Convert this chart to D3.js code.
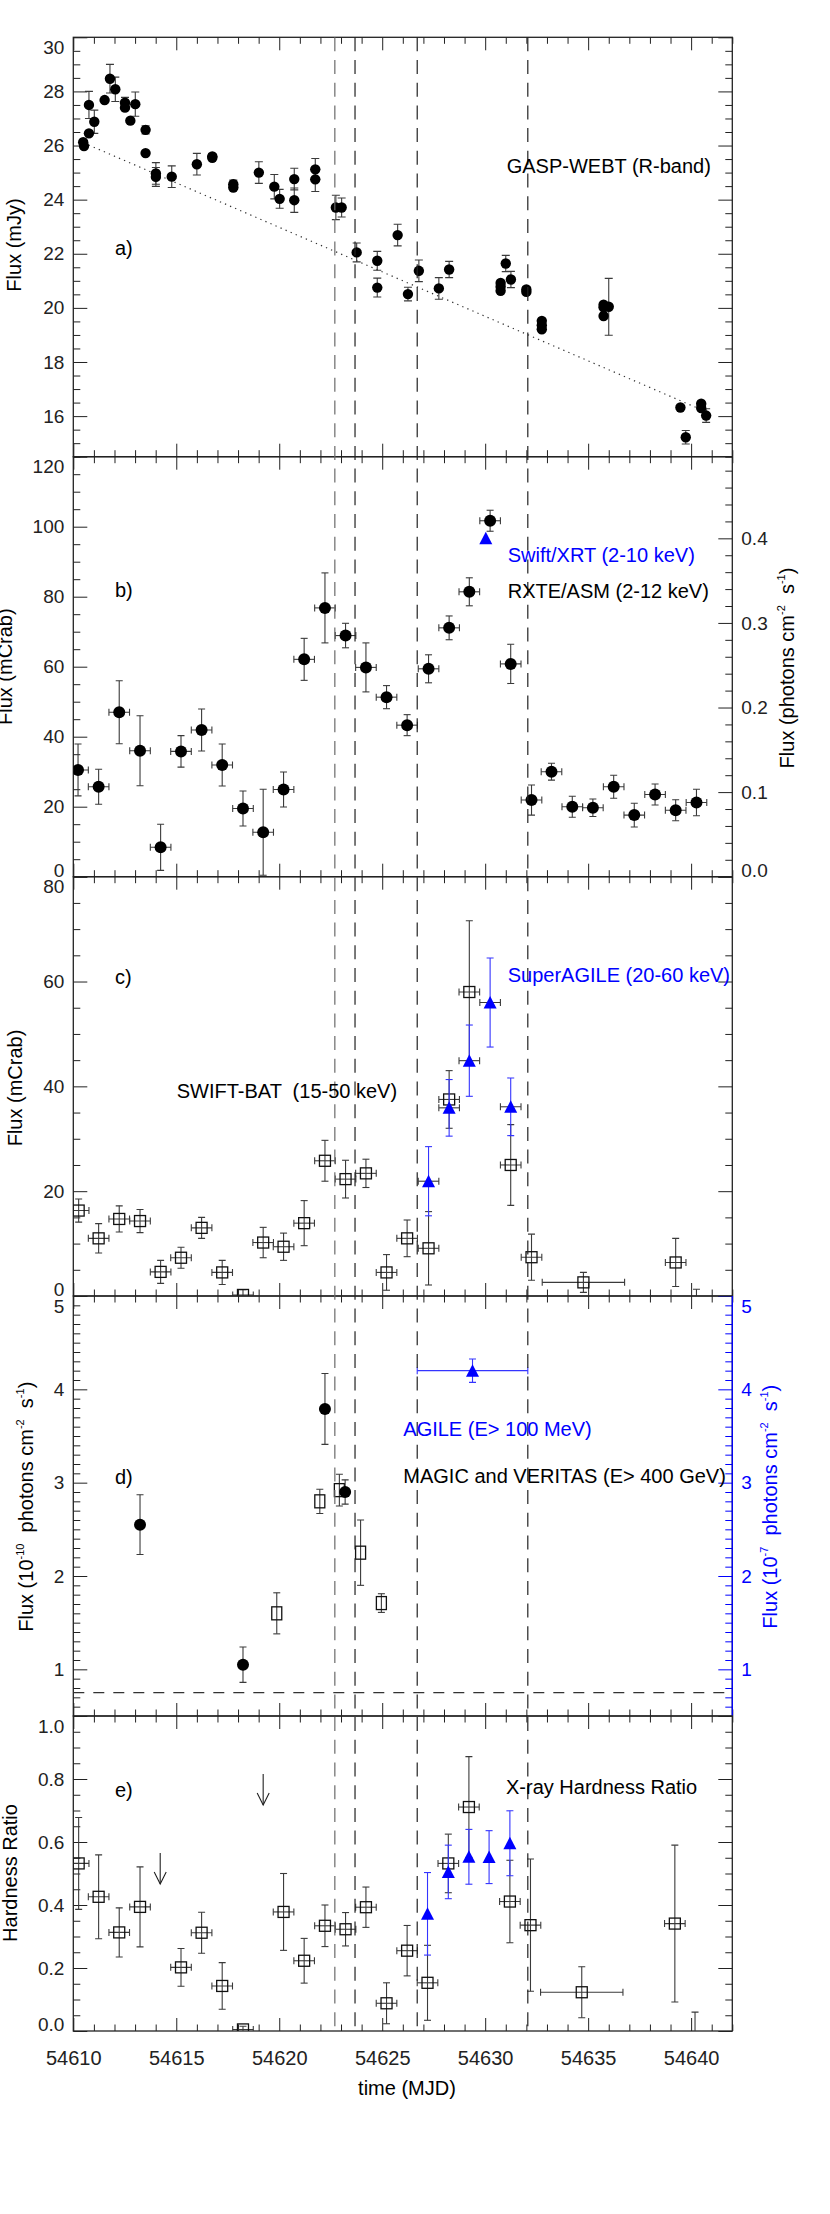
<!DOCTYPE html>
<html>
<head>
<meta charset="utf-8">
<script src="https://cdn.jsdelivr.net/npm/d3@7/dist/d3.min.js"></script>
<style>
  body { margin: 0; background: #fff; }
  svg { display: block; }
</style>
</head>
<body>
<svg id="chart"></svg>
<script>
// ---------------- data ----------------
const eventLines = [54622.70, 54623.68, 54626.70, 54632.07];

// a) GASP-WEBT R-band
const webtTime = [54610.48, 54610.52, 54610.76, 54610.76, 54611.02, 54611.52, 54611.78, 54612.04, 54612.51, 54612.51,
  54612.77, 54613.01, 54613.51, 54613.51, 54614.01, 54614.01, 54614.78, 54616.00, 54616.75, 54616.75,
  54617.77, 54617.77, 54619.01, 54619.76, 54620.02, 54620.73, 54620.73, 54621.75, 54621.75, 54622.75,
  54623.03, 54623.76, 54624.76, 54624.76, 54625.75, 54626.25, 54626.78, 54627.75, 54628.25, 54630.75,
  54630.75, 54630.75, 54631.00, 54631.25, 54632.00, 54632.00, 54632.75, 54632.75, 54632.75, 54635.75,
  54635.75, 54635.75, 54636.00, 54639.48, 54639.74, 54640.49, 54640.49, 54640.73];
const webtFlux = [26.12, 25.98, 26.45, 27.50, 26.88, 27.68, 28.47, 28.08, 27.58, 27.40,
  26.92, 27.53, 26.58, 25.72, 24.97, 24.84, 24.85, 25.31, 25.60, 25.55,
  24.57, 24.45, 25.00, 24.48, 24.03, 24.76, 23.98, 25.12, 24.75, 23.71,
  23.71, 22.05, 21.74, 20.75, 22.69, 20.51, 21.37, 20.72, 21.42, 20.92,
  20.78, 20.63, 21.64, 21.05, 20.68, 20.59, 19.52, 19.36, 19.21, 20.12,
  20.02, 19.70, 20.04, 16.32, 15.22, 16.46, 16.30, 16.02];
const webtErr = [0, 0, 0, 0.50, 0.43, 0, 0.53, 0.45, 0.20, 0,
  0, 0.45, 0.15, 0, 0.40, 0.35, 0.40, 0.40, 0.10, 0,
  0.15, 0, 0.40, 0.45, 0.35, 0.40, 0.45, 0.40, 0.45, 0.45,
  0.35, 0.35, 0.35, 0.35, 0.40, 0.25, 0.40, 0.40, 0.30, 0,
  0, 0, 0.30, 0.30, 0.10, 0, 0, 0, 0, 0,
  0, 0, 1.05, 0, 0.25, 0, 0.10, 0.25];
const trendTime = [54610.5, 54640.3];
const trendFlux = [26.1, 16.3];

// b) RXTE/ASM (mCrab) and Swift/XRT (photons cm-2 s-1, right axis)
const asmTime = [54610.23, 54611.23, 54612.23, 54613.24, 54614.24, 54615.23, 54616.23, 54617.23, 54618.24, 54619.22,
  54620.21, 54621.21, 54622.22, 54623.22, 54624.21, 54625.21, 54626.21, 54627.25, 54628.25, 54629.23,
  54630.24, 54631.24, 54632.25, 54633.22, 54634.23, 54635.23, 54636.24, 54637.24, 54638.25, 54639.25, 54640.26];
const asmFlux = [30.5, 25.7, 47.0, 36.0, 8.4, 35.8, 41.9, 31.9, 19.5, 12.7,
  24.9, 62.1, 76.8, 68.9, 59.8, 51.3, 43.3, 59.4, 71.1, 81.4,
  101.7, 60.8, 21.9, 30.0, 20.0, 19.7, 25.7, 17.6, 23.5, 19.0, 21.2];
const asmErr = [7.4, 5.0, 9.0, 10.0, 6.6, 4.5, 6.0, 6.0, 5.0, 12.3,
  5.0, 6.0, 10.0, 3.5, 7.0, 3.3, 3.0, 4.0, 3.4, 4.0,
  3.0, 5.6, 4.3, 2.4, 3.0, 2.5, 3.3, 3.4, 3.0, 3.0, 3.8];
const asmBinHalf = 0.5;
const xrtTime = [54630.03];
const xrtFlux = [0.40];

// c) SWIFT-BAT (squares) and SuperAGILE (triangles), mCrab
const batTime = [54610.26, 54611.23, 54612.23, 54613.24, 54614.24, 54615.23, 54616.23, 54617.23, 54618.24, 54619.22,
  54620.21, 54621.21, 54622.22, 54623.22, 54624.21, 54625.21, 54626.21, 54627.25, 54628.25, 54629.23,
  54631.24, 54632.25, 54634.77, 54639.25, 54640.26];
const batFlux = [16.3, 11.0, 14.7, 14.3, 4.6, 7.3, 13.0, 4.5, 0.2, 10.2,
  9.4, 13.9, 25.8, 22.3, 23.4, 4.5, 11.0, 9.1, 37.5, 58.0,
  25.0, 7.4, 2.6, 6.4, -2.0];
const batErr = [2.2, 2.8, 2.5, 2.2, 2.2, 2.0, 2.0, 2.3, 1.0, 2.9,
  2.6, 4.3, 3.9, 3.6, 2.7, 3.4, 3.5, 7.0, 5.5, 13.6,
  7.7, 4.4, 1.9, 4.6, 3.3];
const batTimeErr = [0.5, 0.5, 0.5, 0.5, 0.5, 0.5, 0.5, 0.5, 0.5, 0.5,
  0.5, 0.5, 0.5, 0.5, 0.5, 0.5, 0.5, 0.5, 0.5, 0.5,
  0.5, 0.5, 2.0, 0.5, 0.5];
const saTime = [54627.25, 54628.25, 54629.23, 54630.24, 54631.24];
const saFlux = [21.9, 35.9, 44.9, 56.0, 36.1];
const saErr = [6.6, 5.4, 6.8, 8.5, 5.5];

// d) MAGIC / VERITAS (1e-10 ph cm-2 s-1) and AGILE (1e-7, right axis)
const vheCircTime = [54613.24, 54618.24, 54622.22, 54623.20];
const vheCircFlux = [2.55, 1.05, 3.79, 2.90];
const vheCircErr = [0.32, 0.19, 0.38, 0.13];
const vheSqTime = [54619.88, 54621.97, 54622.92, 54623.95, 54624.96];
const vheSqFlux = [1.60, 2.80, 2.92, 2.25, 1.71];
const vheSqErr = [0.22, 0.13, 0.17, 0.35, 0.10];
const vheLevel = 0.75;
const agileTime = [54629.385];
const agileTimeErr = [2.685];
const agileFlux = [4.20];
const agileErr = [0.125];

// e) hardness ratio
const hrTime = [54610.26, 54611.23, 54612.23, 54613.24, 54615.23, 54616.23, 54617.23, 54618.24, 54620.21, 54621.21,
  54622.22, 54623.22, 54624.21, 54625.21, 54626.21, 54627.20, 54628.21, 54629.21, 54631.20, 54632.20,
  54634.69, 54639.21, 54640.19];
const hrVal = [0.532, 0.426, 0.313, 0.394, 0.202, 0.312, 0.143, 0.005, 0.378, 0.223,
  0.334, 0.323, 0.393, 0.088, 0.255, 0.153, 0.532, 0.711, 0.411, 0.336,
  0.123, 0.341, -0.05];
const hrErr = [0.146, 0.133, 0.078, 0.127, 0.060, 0.065, 0.074, 0.010, 0.122, 0.071,
  0.066, 0.053, 0.064, 0.065, 0.080, 0.119, 0.093, 0.160, 0.131, 0.210,
  0.081, 0.249, 0.110];
const hrTimeErr = [0.5, 0.5, 0.5, 0.5, 0.5, 0.5, 0.5, 0.5, 0.5, 0.5,
  0.5, 0.5, 0.5, 0.5, 0.5, 0.5, 0.5, 0.5, 0.5, 0.5,
  2.0, 0.5, 0.5];
const hrLimTime = [54614.22, 54619.22];
const hrLimVal = [0.565, 0.816];
const hrXrtTime = [54627.20, 54628.21, 54629.21, 54630.19, 54631.20];
const hrXrtVal = [0.372, 0.505, 0.553, 0.552, 0.596];
const hrXrtErr = [0.131, 0.085, 0.087, 0.084, 0.103];

// ---------------- drawing ----------------
const font = '"Liberation Sans", Arial, Helvetica, sans-serif';
const ink = "#222", barInk = "#3a3a3a", blue = "#0000ff", blueBar = "#3434ff";

const svg = d3.select("#chart")
  .attr("width", 830).attr("height", 2214)
  .style("font-family", font);
svg.append("rect").attr("width", 830).attr("height", 2214).attr("fill", "#fff");
const defs = svg.append("defs");

const x = d3.scaleLinear().domain([54610, 54642]).range([73.3, 732.3]);
const [L, R] = x.range();

function stepTicks(dom, step) {
  const lo = Math.min(...dom), hi = Math.max(...dom);
  const i0 = Math.ceil(lo / step - 1e-6), i1 = Math.floor(hi / step + 1e-6);
  return d3.range(i0, i1 + 1).map(i => +(i * step).toFixed(6));
}
function isMult(v, step) {
  const r = v / step;
  return Math.abs(r - Math.round(r)) < 1e-6;
}

// keep the labels at the panel edges inside the panel, like the original
function fitLabels(axisG, scale, top, bottom) {
  axisG.attr("font-size", 19).attr("font-family", font);
  axisG.selectAll(".tick text").attr("y", d => {
    const py = scale(d);
    return Math.max(top + 10, Math.min(bottom - 6.5, py)) - py;
  });
}

function yAxis(g, axisFn, scale, pos, dom, major, minor, fmt, color, top, bottom) {
  const maj = stepTicks(dom, major);
  const mnr = stepTicks(dom, minor).filter(v => !isMult(v, major));
  g.append("g").attr("transform", `translate(${pos},0)`).attr("color", color)
    .call(axisFn(scale).tickValues(mnr).tickSize(-7).tickSizeOuter(0).tickFormat(""))
    .call(a => a.select(".domain").remove());
  const lab = g.append("g").attr("transform", `translate(${pos},0)`).attr("color", color)
    .call(axisFn(scale).tickValues(maj).tickSize(-14).tickSizeOuter(0).tickPadding(9).tickFormat(fmt || ""))
    .call(a => a.select(".domain").remove());
  if (fmt) fitLabels(lab, scale, top, bottom);
}

function makePanel(id, top, bottom, domain, major, minor, fmt, right) {
  const y = d3.scaleLinear().domain(domain).range([bottom, top]);
  const g = svg.append("g").attr("class", "panel-" + id);

  defs.append("clipPath").attr("id", "clip-" + id).append("rect")
    .attr("x", L).attr("y", top).attr("width", R - L).attr("height", bottom - top);

  // time ticks on both edges, pointing inward
  const xMaj = stepTicks(x.domain(), 5);
  const xMin = stepTicks(x.domain(), 1).filter(v => !isMult(v, 5));
  [[d3.axisBottom, bottom], [d3.axisTop, top]].forEach(([ax, yy]) => {
    [[xMaj, -13], [xMin, -6.5]].forEach(([vals, len]) => {
      g.append("g").attr("transform", `translate(0,${yy})`).attr("color", ink)
        .call(ax(x).tickValues(vals).tickSize(len).tickSizeOuter(0).tickFormat(""))
        .call(a => a.select(".domain").remove());
    });
  });

  yAxis(g, d3.axisLeft, y, L, domain, major, minor, fmt, ink, top, bottom);

  let yr = null;
  if (right) {
    yr = d3.scaleLinear().domain(right.domain).range([bottom, top]);
    yAxis(g, d3.axisRight, yr, R, right.domain, right.major, right.minor, right.fmt, right.color, top, bottom);
  } else {
    yAxis(g, d3.axisRight, y, R, domain, major, minor, null, ink, top, bottom);
  }

  g.append("rect").attr("x", L).attr("y", top).attr("width", R - L).attr("height", bottom - top)
    .attr("fill", "none").attr("stroke", ink).attr("stroke-width", 1.3);
  if (right && right.color !== ink) {
    g.append("line").attr("x1", R).attr("x2", R).attr("y1", top).attr("y2", bottom)
      .attr("stroke", right.color).attr("stroke-width", 1.3);
  }

  const data = g.append("g").attr("clip-path", `url(#clip-${id})`);
  return { y, yr, g, data };
}

function pts(t, v, e, te) {
  return t.map((d, i) => ({ t: d, v: v[i], e: e ? e[i] : 0, te: te ? (Array.isArray(te) ? te[i] : te) : 0 }));
}

function vBars(g, p, ys, cap, color) {
  const s = p.filter(d => d.e > 0);
  g.selectAll(null).data(s).join("line")
    .attr("x1", d => x(d.t)).attr("x2", d => x(d.t))
    .attr("y1", d => ys(d.v - d.e)).attr("y2", d => ys(d.v + d.e))
    .attr("stroke", color).attr("stroke-width", 1.1);
  g.selectAll(null).data(s.flatMap(d => [[d.t, d.v - d.e], [d.t, d.v + d.e]])).join("line")
    .attr("x1", d => x(d[0]) - cap).attr("x2", d => x(d[0]) + cap)
    .attr("y1", d => ys(d[1])).attr("y2", d => ys(d[1]))
    .attr("stroke", color).attr("stroke-width", 1.1);
}
function hBars(g, p, ys, cap, color) {
  const s = p.filter(d => d.te > 0);
  g.selectAll(null).data(s).join("line")
    .attr("x1", d => x(d.t - d.te)).attr("x2", d => x(d.t + d.te))
    .attr("y1", d => ys(d.v)).attr("y2", d => ys(d.v))
    .attr("stroke", color).attr("stroke-width", 1.1);
  g.selectAll(null).data(s.flatMap(d => [[d.t - d.te, d.v], [d.t + d.te, d.v]])).join("line")
    .attr("x1", d => x(d[0])).attr("x2", d => x(d[0]))
    .attr("y1", d => ys(d[1]) - cap).attr("y2", d => ys(d[1]) + cap)
    .attr("stroke", color).attr("stroke-width", 1.1);
}
function dots(g, p, ys, r) {
  g.selectAll(null).data(p).join("circle")
    .attr("cx", d => x(d.t)).attr("cy", d => ys(d.v)).attr("r", r).attr("fill", "#000");
}
function squares(g, p, ys, w, h) {
  g.selectAll(null).data(p).join("rect")
    .attr("x", d => x(d.t) - w / 2).attr("y", d => ys(d.v) - h / 2)
    .attr("width", w).attr("height", h)
    .attr("fill", "none").attr("stroke", "#111").attr("stroke-width", 1.3);
}
function triangles(g, p, ys, color) {
  g.selectAll(null).data(p).join("path")
    .attr("d", "M0,-6.5L6.5,6L-6.5,6Z")
    .attr("transform", d => `translate(${x(d.t)},${ys(d.v)})`)
    .attr("fill", color);
}
function label(xp, yp, str, color) {
  return svg.append("text").attr("x", xp).attr("y", yp)
    .attr("font-size", 20).attr("fill", color || "#000")
    .style("white-space", "pre").text(str);
}
function vTitle(xb, yc, parts, color) {
  const t = svg.append("text")
    .attr("transform", `translate(${xb},${yc}) rotate(-90)`)
    .attr("text-anchor", "middle").attr("font-size", 20)
    .attr("fill", color || "#000").style("white-space", "pre");
  let up = false;
  parts.forEach(p => {
    const sup = typeof p !== "string";
    const ts = t.append("tspan").text(sup ? p.sup : p);
    if (sup) { ts.attr("font-size", 11).attr("dy", -9); up = true; }
    else if (up) { ts.attr("dy", 9); up = false; }
  });
}

// ---- panel a ----
const pa = makePanel("a", 37.3, 456.7, [14.5, 30], 2, 0.5, d3.format("d"));
pa.data.append("path")
  .datum(d3.zip(trendTime, trendFlux))
  .attr("d", d3.line().x(d => x(d[0])).y(d => pa.y(d[1])))
  .attr("fill", "none").attr("stroke", "#333").attr("stroke-width", 1.2)
  .attr("stroke-dasharray", "1.3,4.2");
const webt = pts(webtTime, webtFlux, webtErr);
vBars(pa.data, webt, pa.y, 4, barInk);
dots(pa.data, webt, pa.y, 5.2);

// ---- panel b ----
const pb = makePanel("b", 456.7, 876.7, [0, 120], 20, 5, d3.format("d"),
  { domain: [0, 0.4965], major: 0.1, minor: 0.02, fmt: d3.format(".1f"), color: ink });
const asm = pts(asmTime, asmFlux, asmErr, asmBinHalf);
hBars(pb.data, asm, pb.y, 3.5, barInk);
vBars(pb.data, asm, pb.y, 3.5, barInk);
dots(pb.data, asm, pb.y, 6);
triangles(pb.data, pts(xrtTime, xrtFlux), pb.yr, blue);

// ---- panel c ----
const pc = makePanel("c", 876.7, 1296, [0, 80], 20, 5, d3.format("d"));
const bat = pts(batTime, batFlux, batErr, batTimeErr);
hBars(pc.data, bat, pc.y, 3.5, barInk);
vBars(pc.data, bat, pc.y, 3.5, barInk);
squares(pc.data, bat, pc.y, 11, 11);
const sa = pts(saTime, saFlux, saErr, 0.5);
hBars(pc.data, sa, pc.y, 3.5, barInk);
vBars(pc.data, sa, pc.y, 3.5, blueBar);
triangles(pc.data, sa, pc.y, blue);

// ---- panel d ----
const pd = makePanel("d", 1296, 1716, [0.5, 5], 1, 0.1, d3.format("d"),
  { domain: [0.5, 5], major: 1, minor: 0.1, fmt: d3.format("d"), color: blue });
pd.data.append("line")
  .attr("x1", L).attr("x2", R).attr("y1", pd.y(vheLevel)).attr("y2", pd.y(vheLevel))
  .attr("stroke", "#333").attr("stroke-width", 1.2).attr("stroke-dasharray", "11,9");
const vheC = pts(vheCircTime, vheCircFlux, vheCircErr);
const vheS = pts(vheSqTime, vheSqFlux, vheSqErr);
vBars(pd.data, vheS, pd.y, 3.5, barInk);
squares(pd.data, vheS, pd.y, 10, 13);
vBars(pd.data, vheC, pd.y, 3.5, barInk);
dots(pd.data, vheC, pd.y, 6);
const agile = pts(agileTime, agileFlux, agileErr, agileTimeErr);
hBars(pd.data, agile, pd.yr, 3.5, blueBar);
vBars(pd.data, agile, pd.yr, 3.5, blueBar);
triangles(pd.data, agile, pd.yr, blue);

// ---- panel e ----
const pe = makePanel("e", 1716, 2031, [0, 1], 0.2, 0.05, d3.format(".1f"));
const hr = pts(hrTime, hrVal, hrErr, hrTimeErr);
hBars(pe.data, hr, pe.y, 3.5, barInk);
vBars(pe.data, hr, pe.y, 3.5, barInk);
squares(pe.data, hr, pe.y, 11, 11);
const hrX = pts(hrXrtTime, hrXrtVal, hrXrtErr);
vBars(pe.data, hrX, pe.y, 3.5, blueBar);
triangles(pe.data, hrX, pe.y, blue);
// upper limits
const lims = pts(hrLimTime, hrLimVal);
pe.data.selectAll(null).data(lims).join("line")
  .attr("x1", d => x(d.t)).attr("x2", d => x(d.t))
  .attr("y1", d => pe.y(d.v)).attr("y2", d => pe.y(d.v) + 31)
  .attr("stroke", ink).attr("stroke-width", 1.1);
pe.data.selectAll(null).data(lims).join("path")
  .attr("d", d => {
    const cx = x(d.t), ty = pe.y(d.v) + 31;
    return `M${cx - 6},${ty - 12}L${cx},${ty}L${cx + 6},${ty - 12}`;
  })
  .attr("fill", "none").attr("stroke", ink).attr("stroke-width", 1.1);

// time axis labels
svg.append("g").attr("transform", "translate(0,2031)").attr("color", ink)
  .call(d3.axisBottom(x).tickValues(stepTicks(x.domain(), 5)).tickSize(0).tickPadding(19.8).tickFormat(d3.format("d")))
  .call(a => a.select(".domain").remove())
  .attr("font-size", 20).attr("font-family", font);

// dashed lines marking the flare intervals, through all panels
svg.append("g").selectAll("line").data(eventLines).join("line")
  .attr("x1", d => x(d)).attr("x2", d => x(d))
  .attr("y1", 37.3).attr("y2", 2031)
  .attr("stroke", (d, i) => i === 0 ? "#6a6a6a" : "#222")
  .attr("stroke-width", 1.2).attr("stroke-dasharray", "14,8.7");

// ---- texts ----
label(506.7, 172.6, "GASP-WEBT (R-band)");
label(115, 255, "a)");
label(507.7, 561.7, "Swift/XRT (2-10 keV)", blue);
label(507.7, 598, "RXTE/ASM (2-12 keV)");
label(115, 597, "b)");
label(507.7, 981.6, "SuperAGILE (20-60 keV)", blue);
label(176.7, 1097.5, "SWIFT-BAT  (15-50 keV)");
label(115, 983.5, "c)");
label(403.3, 1436, "AGILE (E> 100 MeV)", blue);
label(403.3, 1482.6, "MAGIC and VERITAS (E> 400 GeV)");
label(115, 1484, "d)");
label(506, 1794.3, "X-ray Hardness Ratio");
label(115, 1797, "e)");

svg.append("text").attr("x", 407).attr("y", 2095).attr("text-anchor", "middle")
  .attr("font-size", 20).text("time (MJD)");

vTitle(21, 245, ["Flux (mJy)"]);
vTitle(12, 666.7, ["Flux (mCrab)"]);
vTitle(794, 668, ["Flux (photons cm", { sup: "-2" }, "  s", { sup: "-1" }, ")"]);
vTitle(22, 1088, ["Flux (mCrab)"]);
vTitle(33, 1506.7, ["Flux (10", { sup: "-10" }, "  photons cm", { sup: "-2" }, "  s", { sup: "-1" }, ")"]);
vTitle(776.5, 1506.7, ["Flux (10", { sup: "-7" }, "  photons cm", { sup: "-2" }, "  s", { sup: "-1" }, ")"], blue);
vTitle(16.7, 1873, ["Hardness Ratio"]);
</script>
</body>
</html>
